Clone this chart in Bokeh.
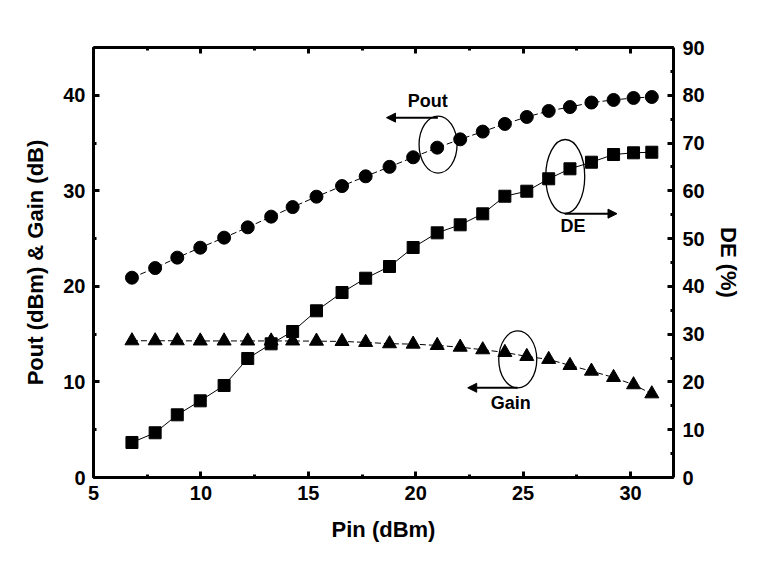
from bokeh.plotting import figure
from bokeh.models import Range1d, LinearAxis, SingleIntervalTicker, ColumnDataSource, Arrow, NormalHead, Ellipse, Label
from bokeh.core.properties import value
from bokeh.embed import file_html
from bokeh.resources import INLINE

# ---- data ----
pin = [6.79, 7.87, 8.90, 9.97, 11.08, 12.18, 13.27, 14.27, 15.38, 16.57, 17.67, 18.78,
       19.88, 21.00, 22.07, 23.12, 24.15, 25.17, 26.19, 27.18, 28.18, 29.21, 30.14, 30.99]
pout = [20.91, 21.92, 23.01, 24.05, 25.10, 26.18, 27.30, 28.30, 29.39, 30.50, 31.52, 32.51,
        33.51, 34.52, 35.39, 36.20, 37.00, 37.73, 38.36, 38.77, 39.24, 39.51, 39.72, 39.82]
gain = [14.31, 14.31, 14.31, 14.29, 14.29, 14.29, 14.29, 14.29, 14.27, 14.24, 14.14, 14.00,
        13.96, 13.82, 13.64, 13.37, 13.09, 12.67, 12.36, 11.73, 11.13, 10.47, 9.71, 8.76]
de = [7.33, 9.36, 13.12, 16.05, 19.26, 24.91, 27.98, 30.56, 34.89, 38.72, 41.71, 44.16,
      48.14, 51.21, 52.89, 55.19, 58.87, 59.92, 62.52, 64.61, 65.99, 67.60, 67.96, 68.08]

x_title = "Pin (dBm)"
y_title = "Pout (dBm) & Gain (dB)"
y2_title = "DE (%)"

# annotation anchors (data coords, left axis)
ann_labels = ["Pout", "DE", "Gain"]
ann_text_x = [20.56, 27.32, 24.42]
ann_text_y = [39.43, 26.35, 7.8]
ell_x = [21.04, 26.96, 24.75]
ell_y = [34.84, 31.50, 12.36]
ell_w = [38, 39, 38]
ell_h = [57, 74, 57]
arr_x0 = [21.03, 26.94, 24.74]
arr_x1 = [18.64, 29.37, 22.42]
arr_y = [37.66, 27.61, 9.39]

FONT = "Liberation Sans"

p = figure(width=765, height=563, output_backend="svg", toolbar_location=None,
           x_range=Range1d(5, 32), y_range=Range1d(0, 45),
           min_border_left=93, min_border_right=92, min_border_top=47, min_border_bottom=86)
p.extra_y_ranges = {"de": Range1d(0, 90)}
p.grid.visible = False
p.outline_line_color = None
p.background_fill_color = "white"
p.border_fill_color = "white"

def style_axis(ax, labels=True):
    ax.axis_line_width = 3
    ax.axis_line_color = "black"
    ax.major_tick_in = 6
    ax.major_tick_out = 0
    ax.minor_tick_in = 3
    ax.minor_tick_out = 0
    ax.major_tick_line_width = 3
    ax.minor_tick_line_width = 3
    ax.major_label_text_font = FONT
    ax.major_label_text_font_style = "bold"
    ax.major_label_text_font_size = "20px"
    ax.major_label_text_color = "black" if labels else None
    ax.axis_label_text_font = FONT
    ax.axis_label_text_font_style = "bold"
    ax.axis_label_text_font_size = "22px"
    ax.axis_label_text_color = "black"

xt = SingleIntervalTicker(interval=5, num_minor_ticks=2)
yt = SingleIntervalTicker(interval=10, num_minor_ticks=2)
y2t = SingleIntervalTicker(interval=10, num_minor_ticks=2)

xa = p.xaxis[0]
xa.ticker = xt
xa.axis_label = x_title
style_axis(xa)
xa.major_label_standoff = 8
xa.axis_label_standoff = 14

ya = p.yaxis[0]
ya.ticker = yt
ya.axis_label = y_title
style_axis(ya)
ya.major_label_standoff = 8
ya.axis_label_standoff = 12

top = LinearAxis(ticker=SingleIntervalTicker(interval=5, num_minor_ticks=2))
style_axis(top, labels=False)
top.major_label_text_font_size = "0px"
p.add_layout(top, "above")

right = LinearAxis(y_range_name="de", ticker=y2t, axis_label=y2_title)
style_axis(right)
right.major_label_standoff = 9
right.axis_label_standoff = 8
p.add_layout(right, "right")

src = ColumnDataSource(dict(pin=pin, pout=pout, gain=gain, de=de))

p.line("pin", "pout", source=src, line_color="black", line_width=1, line_dash="6 3")
p.scatter("pin", "pout", source=src, marker="circle", size=13, fill_color="black", line_color="black")

p.line("pin", "gain", source=src, line_color="black", line_width=1, line_dash="6 3")
p.scatter("pin", "gain", source=src, marker="triangle", size=14, fill_color="black", line_color="black")

p.line("pin", "de", source=src, y_range_name="de", line_color="black", line_width=1)
p.scatter("pin", "de", source=src, y_range_name="de", marker="square", size=12, fill_color="black", line_color="black")

# annotations
ell_src = ColumnDataSource(dict(x=ell_x, y=ell_y, w=ell_w, h=ell_h))
p.add_glyph(ell_src, Ellipse(x="x", y="y", width="w", height="h", width_units="screen", height_units="screen",
                            fill_color=None, line_color="black", line_width=1.3))
for i in range(3):
    p.add_layout(Arrow(end=NormalHead(size=9, fill_color="black", line_color="black"),
                       x_start=arr_x0[i], y_start=arr_y[i], x_end=arr_x1[i], y_end=arr_y[i],
                       line_color="black", line_width=2))
    p.add_layout(Label(x=ann_text_x[i], y=ann_text_y[i], text=ann_labels[i],
                       text_font=FONT, text_font_style="bold", text_font_size="18px",
                       text_align="center", text_baseline="middle", text_color="black"))

open("out.html", "w").write(file_html(p, INLINE))
